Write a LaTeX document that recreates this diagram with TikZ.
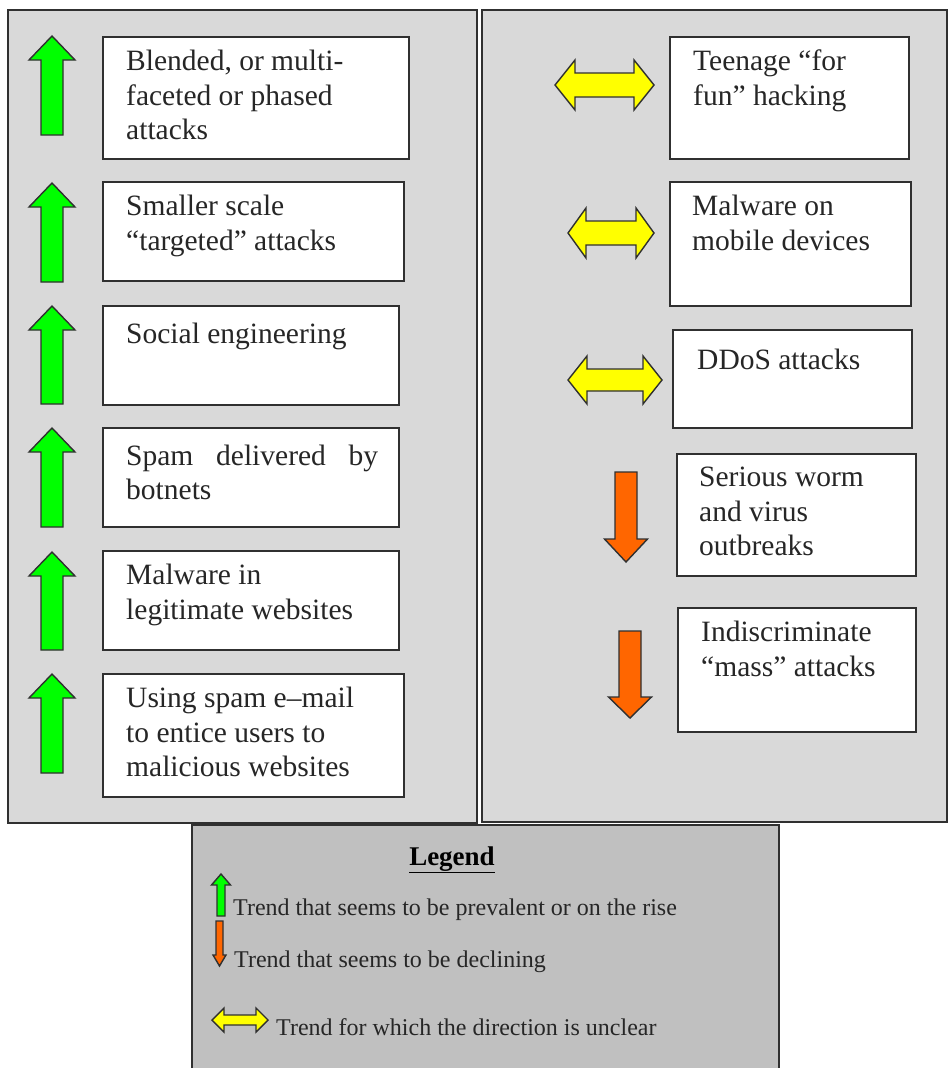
\documentclass[tikz,border=0pt]{standalone}
\usepackage{fontspec}
\setmainfont{Liberation Serif}
\usetikzlibrary{calc}
\definecolor{panelgray}{HTML}{D9D9D9}
\definecolor{legendgray}{HTML}{C0C0C0}
\definecolor{upgreen}{HTML}{00FF00}
\definecolor{bothyellow}{HTML}{FFFF00}
\definecolor{downorange}{HTML}{FF6600}
\definecolor{linecol}{HTML}{303030}
\newcommand\trendup[7]{\draw[arrowline, fill=#1, shift={(#2,#3)}] (0,0) -- (#4,#6) -- (#5,#6) -- (#5,#7) -- (-#5,#7) -- (-#5,#6) -- (-#4,#6) -- cycle;}
\newcommand\trenddown[7]{\draw[arrowline, fill=#1, shift={(#2,#3)}] (-#5,0) -- (#5,0) -- (#5,#6) -- (#4,#6) -- (0,#7) -- (-#4,#6) -- (-#5,#6) -- cycle;}
\newcommand\trendboth[7]{\draw[arrowline, fill=#1] (#2,#4) -- ({#2+#7},{#4-#5}) -- ({#2+#7},{#4-#6}) -- ({#3-#7},{#4-#6}) -- ({#3-#7},{#4-#5}) -- (#3,#4) -- ({#3-#7},{#4+#5}) -- ({#3-#7},{#4+#6}) -- ({#2+#7},{#4+#6}) -- ({#2+#7},{#4+#5}) -- cycle;}
\begin{document}
\begin{tikzpicture}[x=1pt,y=-1pt,
  panel/.style={draw=linecol, line width=2pt, fill=panelgray, rectangle, inner sep=0pt, outer sep=0pt, anchor=north west},
  tbox/.style={draw=linecol, line width=1.6pt, fill=white, rectangle, inner sep=0pt, outer sep=0pt, anchor=north west},
  ttext/.style={font=\fontsize{29.5}{34.5}\selectfont, align=left, inner sep=0pt, anchor=north west, execute at begin node=\strut, text=black!85},
  legtext/.style={font=\fontsize{24}{28}\selectfont, inner sep=0pt, anchor=base west, text=black!85},
  legtitle/.style={font=\fontsize{27}{30}\selectfont\bfseries, inner sep=0pt, anchor=base, text=black},
  arrowline/.style={draw=linecol, line width=1.4pt, line join=miter}]
\useasboundingbox (0,0) rectangle (948,1068);
\fill[white] (0,0) rectangle (948,1068);
% panels
\node[panel, minimum width=469pt, minimum height=813pt] (lp) at (8,10) {};
\node[panel, minimum width=465pt, minimum height=812pt] (rp) at (482,10) {};
\node[panel, fill=legendgray, minimum width=587pt, minimum height=250pt] (leg) at (192,825) {};
% left boxes
\node[tbox, minimum width=306pt, minimum height=122pt] (b1) at (103,37) {};
\node[tbox, minimum width=301pt, minimum height=99pt] (b2) at (103,182) {};
\node[tbox, minimum width=296pt, minimum height=99pt] (b3) at (103,306) {};
\node[tbox, minimum width=296pt, minimum height=99pt] (b4) at (103,428) {};
\node[tbox, minimum width=296pt, minimum height=99pt] (b5) at (103,551) {};
\node[tbox, minimum width=301pt, minimum height=123pt] (b6) at (103,674) {};
\node[ttext] (t1) at ($(b1.north west)+(23,13)$) {Blended, or multi-\\faceted or phased\\attacks};
\node[ttext] (t2) at ($(b2.north west)+(23,13)$) {Smaller scale\\“targeted” attacks};
\node[ttext] (t3) at ($(b3.north west)+(23,13)$) {Social engineering};
\node[ttext, text width=252pt] (t4) at ($(b4.north west)+(23,13)$) {Spam\hfill delivered\hfill by\\botnets};
\node[ttext] (t5) at ($(b5.north west)+(23,13)$) {Malware in\\legitimate websites};
\node[ttext] (t6) at ($(b6.north west)+(23,13)$) {Using spam e–mail\\to entice users to\\malicious websites};
% right boxes
\node[tbox, minimum width=239pt, minimum height=122pt] (r1) at (670,37) {};
\node[tbox, minimum width=241pt, minimum height=124pt] (r2) at (670,182) {};
\node[tbox, minimum width=239pt, minimum height=98pt] (r3) at (673,330) {};
\node[tbox, minimum width=239pt, minimum height=122pt] (r4) at (677,454) {};
\node[tbox, minimum width=238pt, minimum height=124pt] (r5) at (678,608) {};
\node[ttext] (s1) at ($(r1.north west)+(23,13)$) {Teenage “for\\fun” hacking};
\node[ttext] (s2) at ($(r2.north west)+(22,13)$) {Malware on\\mobile devices};
\node[ttext] (s3) at ($(r3.north west)+(24,15)$) {DDoS attacks};
\node[ttext] (s4) at ($(r4.north west)+(22,13)$) {Serious worm\\and virus\\outbreaks};
\node[ttext] (s5) at ($(r5.north west)+(23,13)$) {Indiscriminate\\“mass” attacks};
% green arrows
\trendup{upgreen}{52}{36}{23}{11}{24}{99}
\trendup{upgreen}{52}{183}{23}{11}{24}{99}
\trendup{upgreen}{52}{306}{23}{11}{24}{98}
\trendup{upgreen}{52}{428}{23}{11}{24}{99}
\trendup{upgreen}{52}{552}{23}{11}{24}{98}
\trendup{upgreen}{52}{674}{23}{11}{24}{99}
% yellow arrows
\trendboth{bothyellow}{555}{654}{85}{25}{12}{20}
\trendboth{bothyellow}{568}{654}{233}{25}{12}{18}
\trendboth{bothyellow}{568}{662}{380}{24}{11}{19}
% orange arrows
\trenddown{downorange}{626}{472}{21.5}{11}{67}{90}
\trenddown{downorange}{630}{631}{21.5}{11}{66}{87}
% legend
\node[legtitle] (lt) at (452,865) {\underline{Legend}};
\trendup{upgreen}{221}{874}{9.5}{4}{11}{42}
\node[legtext] (l1) at (233,915) {Trend that seems to be prevalent or on the rise};
\trenddown{downorange}{219.5}{921}{6.5}{3.5}{34}{45}
\node[legtext] (l2) at (234,967) {Trend that seems to be declining};
\trendboth{bothyellow}{212}{268}{1020}{12}{5}{12}
\node[legtext] (l3) at (276,1035) {Trend for which the direction is unclear};
\end{tikzpicture}
\end{document}
